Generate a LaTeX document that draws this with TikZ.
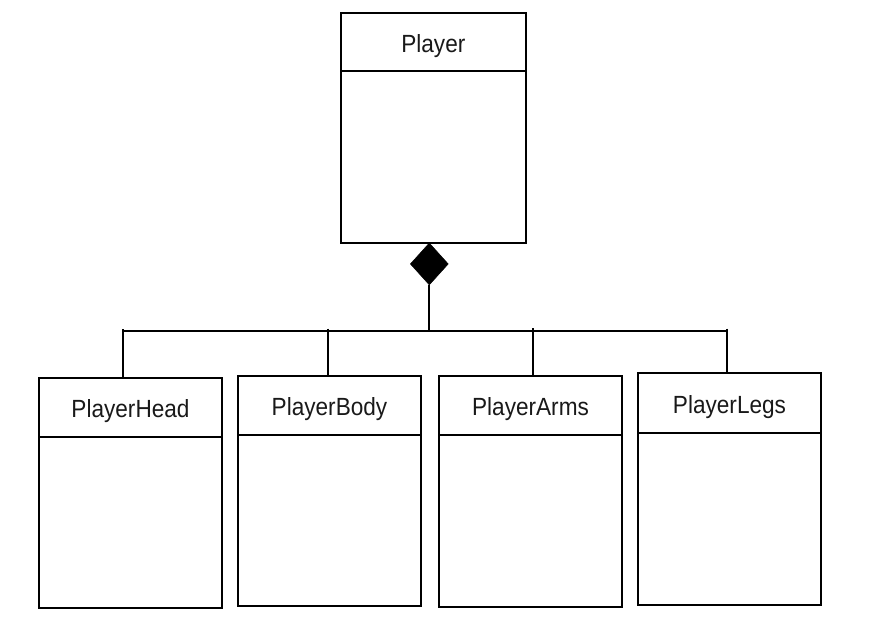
\documentclass[tikz,border=0pt]{standalone}
\usepackage{fontspec}
\setmainfont{Liberation Sans}
\usetikzlibrary{shapes.geometric}
\tikzset{
  classbox/.style={draw=black, line width=1.8pt, rectangle, inner sep=0pt, outer sep=0pt},
  classline/.style={draw=black, line width=1.8pt},
  classtitle/.style={inner sep=0pt, font=\fontsize{22.6}{26}\selectfont, text=black!90},
  conn/.style={draw=black, line width=1.8pt},
  compdiamond/.style={diamond, fill=black, draw=black, line width=0.5pt, inner sep=0pt,
    minimum width=38pt, minimum height=42pt}
}
\newcommand\umlclass[7]{%
  \node[classbox, minimum width={#4-#2}, minimum height={#5-#3}] (#1) at ({(#2+#4)/2},{(#3+#5)/2}) {};
  \draw[classline] (#2,#6) -- (#4,#6);
  \node[classtitle] (#1-t) at ({(#2+#4)/2},{(#3+#6)/2+4}) {\scalebox{1}[1.1]{#7}};
}
\begin{document}
\begin{tikzpicture}[x=1pt,y=-1pt]
\useasboundingbox (0,0) rectangle (873,627);
\umlclass{player}{341}{12.7}{525.7}{242.7}{71}{Player}
\umlclass{head}{39.3}{377.7}{221.7}{608.3}{436.7}{PlayerHead}
\umlclass{body}{238.3}{376}{420.7}{606}{435}{PlayerBody}
\umlclass{arms}{439.3}{375.7}{621.7}{606.7}{435.3}{PlayerArms}
\umlclass{legs}{638.3}{373.3}{820.7}{605}{433.3}{PlayerLegs}
\node[compdiamond, anchor=north] (dia) at (player.south -| 429.3,0) {};
\coordinate (busL) at (122,331);
\coordinate (busR) at (727,331);
\coordinate (busM) at (429.3,331);
\draw[conn] (dia.south) -- (busM);
\draw[conn] (busL) -- (busR);
\coordinate (hT) at (123,329);
\coordinate (bT) at (328.3,328.5);
\coordinate (aT) at (533.3,328.3);
\coordinate (lT) at (726.7,328.5);
\draw[conn] (hT) -- (hT |- head.north);
\draw[conn] (bT) -- (bT |- body.north);
\draw[conn] (aT) -- (aT |- arms.north);
\draw[conn] (lT) -- (lT |- legs.north);
\end{tikzpicture}
\end{document}
